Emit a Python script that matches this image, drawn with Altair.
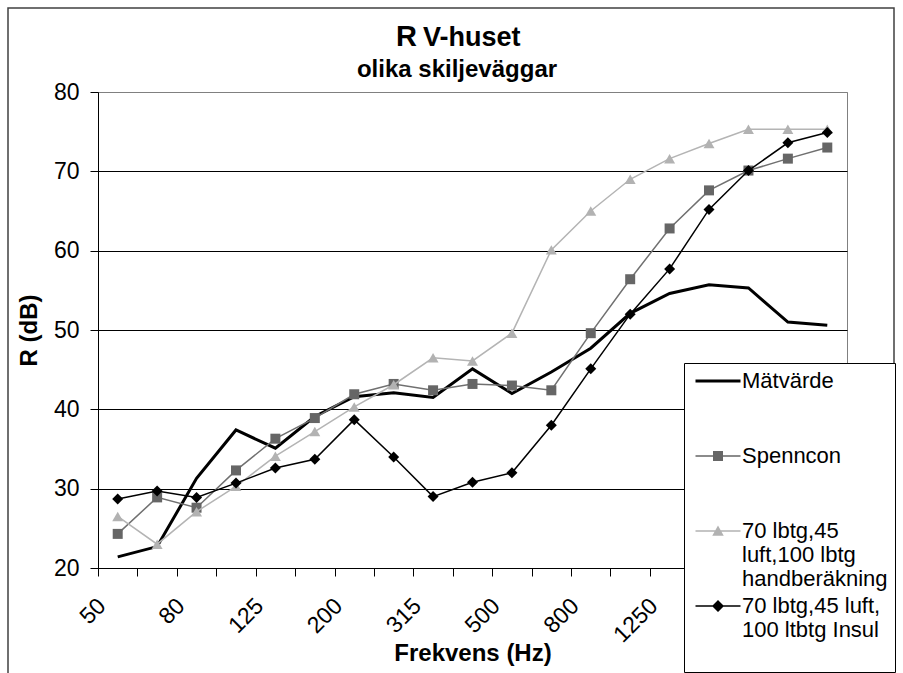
import json
import altair as alt
import pandas as pd

# ---------------- data ----------------
freqs = ["50", "63", "80", "100", "125", "160", "200", "250", "315", "400",
         "500", "630", "800", "1000", "1250", "1600", "2000", "2500", "3150"]
shown_freq_labels = ["50", "80", "125", "200", "315", "500", "800", "1250", "2000", "3150"]

series_names = ["Mätvärde", "Spenncon",
                "70 lbtg,45 luft,100 lbtg handberäkning",
                "70 lbtg,45 luft, 100 ltbtg Insul"]
legend_lines = [["Mätvärde"], ["Spenncon"],
                ["70 lbtg,45", "luft,100 lbtg", "handberäkning"],
                ["70 lbtg,45 luft,", "100 ltbtg Insul"]]

matvarde = [21.4, 22.7, 31.3, 37.4, 35.1, 39.1, 41.6, 42.1, 41.5, 45.1,
            42.0, 44.7, 47.7, 52.1, 54.6, 55.7, 55.3, 51.0, 50.6]
spenncon = [24.3, 28.9, 27.6, 32.3, 36.3, 38.9, 41.9, 43.2, 42.4, 43.2,
            43.0, 42.4, 49.6, 56.4, 62.8, 67.6, 70.1, 71.6, 73.0]
handberakning = [26.5, 23.0, 27.1, 30.3, 34.1, 37.2, 40.3, 43.1, 46.5, 46.1,
                 49.6, 60.1, 65.0, 69.0, 71.6, 73.5, 75.3, 75.3, 75.3]
insul = [28.7, 29.7, 28.9, 30.7, 32.6, 33.7, 38.7, 34.0, 29.0, 30.8,
         32.0, 38.0, 45.1, 52.0, 57.7, 65.2, 70.1, 73.6, 74.9]

y_ticks = [20, 30, 40, 50, 60, 70, 80]

# ---------------- styles ----------------
FONT = "Liberation Sans"
line_colors = ["#000000", "#707070", "#B4B4B4", "#000000"]
line_widths = [3, 1.5, 1.5, 1.5]
marker_colors = [None, "#666666", "#B2B2B2", "#000000"]
marker_shapes = [None, "square", "triangle-up", "diamond"]
marker_sizes = [None, 100, 120, 121]
legend_colors = ["#000000", "#666666", "#B2B2B2", "#000000"]
legend_paths = [
    "M-4.5,-0.3H4.5V0.3H-4.5Z",
    "M-4.5,-0.15H4.5V0.15H-4.5ZM-1,-1H1V1H-1Z",
    "M-4.5,-0.15H4.5V0.15H-4.5ZM0,-1.1L1.15,0.95H-1.15Z",
    "M-4.5,-0.15H4.5V0.15H-4.5ZM0,-1.2L1.2,0L0,1.2L-1.2,0Z",
]

all_values = [matvarde, spenncon, handberakning, insul]
rows = []
for name, vals in zip(series_names, all_values):
    for f, v in zip(freqs, vals):
        rows.append({"freq": f, "series": name, "R": v})
df = pd.DataFrame(rows)
one = pd.DataFrame({"a": [0]})

# legend label expression (pad to 3 lines so every entry has same height)
parts = []
for name, lines in zip(series_names, legend_lines):
    padded = lines + [""] * (3 - len(lines))
    parts.append((name, json.dumps(padded, ensure_ascii=False)))
label_expr = ""
for name, arr in parts[:-1]:
    label_expr += f"datum.label == {json.dumps(name, ensure_ascii=False)} ? {arr} : "
label_expr += parts[-1][1]

x_label_expr = ("indexof(" + json.dumps(shown_freq_labels) +
                ", datum.label) >= 0 ? datum.label : ''")

x_enc = alt.X(
    "freq:N",
    scale=alt.Scale(domain=freqs, paddingInner=0, paddingOuter=0),
    axis=alt.Axis(
        title="Frekvens (Hz)", labelAngle=-45, labelAlign="right",
        labelBaseline="middle", labelPadding=26, labelOffset=-16,
        labelFontSize=23, labelExpr=x_label_expr, tickBand="extent",
        tickSize=8, tickColor="black", domainColor="black", grid=False,
        titleFontSize=24, titleFontWeight="bold", titleY=92,
        titleBaseline="alphabetic", labelOverlap=False, labelBound=False,
        labelFlush=False, labelColor="black", titleColor="black",
    ),
)
y_enc = alt.Y(
    "R:Q",
    scale=alt.Scale(domain=[20, 80], nice=False, zero=False),
    axis=alt.Axis(
        values=y_ticks, title="R (dB)", labelFontSize=23, labelPadding=11,
        tickSize=8, tickColor="black", domainColor="black", grid=True,
        gridColor={"condition": {"test": "datum.value === 80", "value": "#808080"},
                   "value": "#000000"},
        gridWidth=1, titleX=-62, titleY=238, titleBaseline="alphabetic",
        titleAlign="center", titleFontSize=24, titleFontWeight="bold",
        labelColor="black", titleColor="black",
    ),
)

base = alt.Chart(df)

frame = alt.Chart(one).mark_rect(fill="transparent", stroke="#404040", strokeWidth=1.5).encode(
    x=alt.value(-90), x2=alt.value(796), y=alt.value(-84), y2=alt.value(620)
)

layers = [frame]
for i, name in enumerate(series_names):
    sub = base.transform_filter(alt.datum.series == name)
    layers.append(sub.mark_line(color=line_colors[i], strokeWidth=line_widths[i]).encode(x=x_enc, y=y_enc))
    if marker_shapes[i]:
        layers.append(sub.mark_point(shape=marker_shapes[i], filled=True, size=marker_sizes[i],
                                     color=marker_colors[i], opacity=1).encode(x=x_enc, y=y_enc))

leg = alt.Legend(
    title=None, orient="none", legendX=586, legendY=271, fillColor="white",
    strokeColor="black", padding=7, cornerRadius=0,
    labelFont=FONT, labelFontSize=22, labelColor="black", labelLimit=400,
    labelExpr=label_expr, labelBaseline="middle", symbolSize=100,
    symbolOffset=16, labelOffset=13, rowPadding=5, symbolStrokeWidth=0, zindex=1,
)
legend_layer = base.transform_filter("false").mark_point(filled=True, opacity=1, size=100).encode(
    x=x_enc, y=y_enc,
    color=alt.Color("series:N", scale=alt.Scale(domain=series_names, range=legend_colors), legend=leg),
    shape=alt.Shape("series:N", scale=alt.Scale(domain=series_names, range=legend_paths), legend=leg),
)
layers.append(legend_layer)

title_r = alt.Chart(one).mark_text(text="R", font=FONT, fontSize=29, fontWeight="bold",
                                   align="right", baseline="alphabetic", color="black").encode(
    x=alt.value(319), y=alt.value(-46))
title_v = alt.Chart(one).mark_text(text="V-huset", font=FONT, fontSize=27, fontWeight="bold",
                                   align="left", baseline="alphabetic", color="black").encode(
    x=alt.value(325), y=alt.value(-46))
subtitle = alt.Chart(one).mark_text(text="olika skiljeväggar", font=FONT, fontSize=24, fontWeight="bold",
                                    align="center", baseline="alphabetic", color="black").encode(
    x=alt.value(359), y=alt.value(-15))
layers += [title_r, title_v, subtitle]

chart = alt.layer(*layers).properties(
    width=749, height=476,
    autosize=alt.AutoSizeParams(type="none"),
    padding={"left": 98, "top": 92, "right": 56, "bottom": 105},
    background="white",
).configure(font=FONT).configure_view(stroke="#808080", strokeWidth=1)

chart.save("out.html", embed_options={"renderer": "svg", "actions": False})
